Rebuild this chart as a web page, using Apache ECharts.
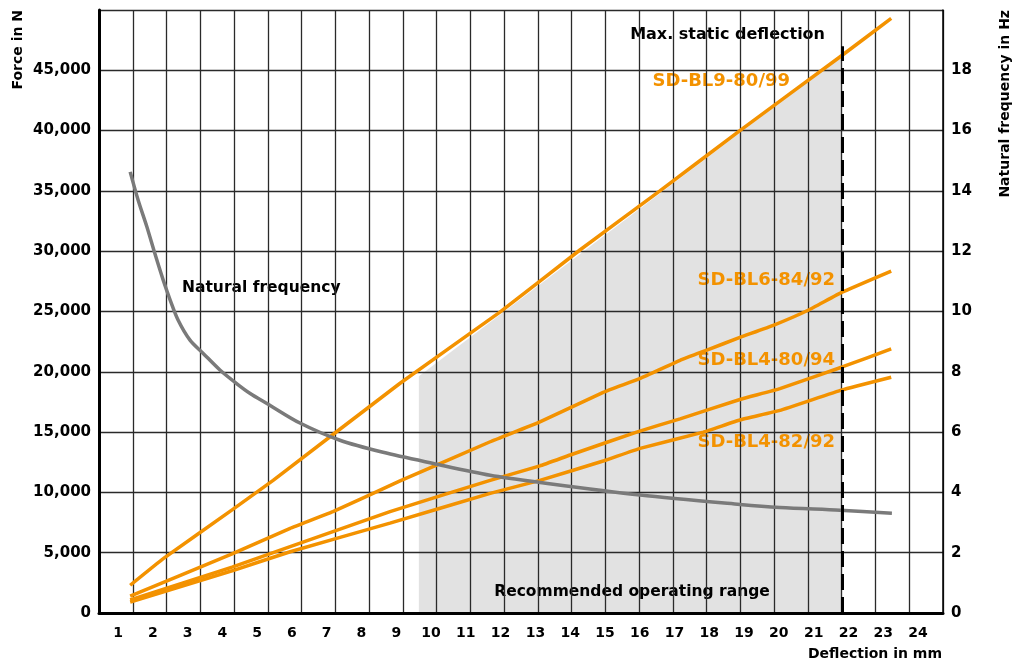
<!DOCTYPE html>
<html>
<head>
<meta charset="utf-8">
<script src="https://cdn.jsdelivr.net/npm/echarts@6/dist/echarts.min.js"></script>
<style>
html,body{margin:0;padding:0;background:#fff;}
#chart{width:1014px;height:664px;}
</style>
</head>
<body>
<div id="chart"></div>
<script>
// ---- data ----
const xTickLabels = [1,2,3,4,5,6,7,8,9,10,11,12,13,14,15,16,17,18,19,20,21,22,23,24];
const forceTicks = [0,5000,10000,15000,20000,25000,30000,35000,40000,45000];
const freqTicks = [0,2,4,6,8,10,12,14,16,18];

const freqX  = [1.35, 1.58, 1.83, 2.06, 2.30, 2.50, 2.73, 3.07, 3.45, 3.93, 4.41, 4.80, 5.28, 6.23, 7.38, 8.62, 10.07, 11.70, 13.13, 16.01, 18.88, 20.03, 21.76, 23.25];
const freqHz = [14.63, 13.69, 12.81, 11.92, 11.04, 10.38, 9.71, 9.05, 8.61, 8.06, 7.61, 7.28, 6.95, 6.3, 5.73, 5.33, 4.96, 4.57, 4.33, 3.91, 3.6, 3.5, 3.41, 3.31];

const bl9X = [1.35, 2.32, 4.28, 5.46, 9.11, 11.98, 14.28, 16.58, 18.88, 21.82, 23.23];
const bl9F = [2300, 4550, 8550, 11000, 19050, 24950, 30100, 35000, 40000, 46250, 49300];

const bl6X = [1.35, 4.28, 5.95, 7.18, 9.11, 11.70, 13.13, 14.95, 16.01, 17.16, 17.93, 18.88, 19.84, 20.84, 21.82, 23.23];
const bl6F = [1400, 4900, 7020, 8400, 10950, 14200, 15850, 18300, 19450, 20950, 21800, 22850, 23850, 25100, 26600, 28350];

const bl480X = [1.35, 4.28, 5.95, 8.82, 11.70, 13.13, 14.0, 15.91, 17.16, 18.88, 20.03, 21.82, 23.23];
const bl480F = [1080, 3800, 5500, 8400, 11000, 12200, 13100, 15000, 16100, 17700, 18600, 20400, 21900];

const bl482X = [1.35, 4.28, 5.95, 8.82, 11.70, 13.13, 14.95, 16.01, 17.83, 18.88, 20.03, 21.82, 23.23];
const bl482F = [900, 3500, 5080, 7450, 9920, 11000, 12600, 13650, 15000, 16000, 16800, 18500, 19550];

// recommended operating range (under SD-BL9 line) and max static deflection
const rangeX = [9.65, 21.82];
const rangeF = [19640, 46250];
const maxDeflection = 21.82;
const maxDeflectionTop = 47000;

const pairs = (xs, ys) => xs.map((x, i) => [x, ys[i]]);

const ORANGE = '#f39200';
const FONT = 'DejaVu Sans';

const chart = echarts.init(document.getElementById('chart'), null, {renderer: 'canvas'});

const option = {
  animation: false,
  backgroundColor: '#ffffff',
  grid: {left: 99, right: 71, top: 10, bottom: 51, containLabel: false},
  xAxis: [
    {
      type: 'value',
      min: 0.4537, max: 24.719,
      axisLine: {show: true, onZero: false, lineStyle: {color: '#000', width: 3}},
      axisTick: {show: false},
      splitLine: {show: false},
      axisLabel: {
        customValues: xTickLabels,
        color: '#000', fontFamily: FONT, fontWeight: 'bold', fontSize: 14, margin: 13
      }
    },
    {
      type: 'value',
      min: 0, max: 25, interval: 1,
      position: 'bottom',
      axisLine: {show: false},
      axisTick: {show: false},
      axisLabel: {show: false},
      splitLine: {show: true, lineStyle: {color: '#2a2a2a', width: 1.3}}
    }
  ],
  yAxis: [
    {
      type: 'value',
      min: 0, max: 50000, interval: 5000,
      axisLine: {show: true, lineStyle: {color: '#000', width: 3}},
      axisTick: {show: false},
      splitLine: {show: true, lineStyle: {color: '#2a2a2a', width: 1.3}},
      axisLabel: {
        color: '#000', fontFamily: FONT, fontWeight: 'bold', fontSize: 15, margin: 8,
        formatter: v => forceTicks.indexOf(v) >= 0 ? v.toLocaleString('en-US') : ''
      }
    },
    {
      type: 'value',
      min: 0, max: 20, interval: 2,
      position: 'right',
      axisLine: {show: true, lineStyle: {color: '#000', width: 1.5}},
      axisTick: {show: false},
      splitLine: {show: false},
      axisLabel: {
        color: '#000', fontFamily: FONT, fontWeight: 'bold', fontSize: 15, margin: 8,
        formatter: v => freqTicks.indexOf(v) >= 0 ? String(v) : ''
      }
    }
  ],
  series: [
    {
      name: 'Recommended operating range',
      type: 'line',
      z: -1,
      data: pairs(rangeX, rangeF),
      symbol: 'none',
      lineStyle: {width: 0},
      areaStyle: {color: '#e2e2e2', opacity: 1, origin: 'start'},
      silent: true
    },
    {
      name: 'SD-BL9-80/99', type: 'line', data: pairs(bl9X, bl9F),
      symbol: 'none', smooth: 0.1, lineStyle: {color: ORANGE, width: 3.5},
      markLine: {
        silent: true, symbol: 'none',
        label: {show: false},
        lineStyle: {color: '#000', width: 3, type: [16, 7]},
        data: [[{coord: [maxDeflection, 0]}, {coord: [maxDeflection, maxDeflectionTop]}]]
      }
    },
    {
      name: 'SD-BL6-84/92', type: 'line', data: pairs(bl6X, bl6F),
      symbol: 'none', smooth: 0.1, lineStyle: {color: ORANGE, width: 3.5}
    },
    {
      name: 'SD-BL4-80/94', type: 'line', data: pairs(bl480X, bl480F),
      symbol: 'none', smooth: 0.1, lineStyle: {color: ORANGE, width: 3.5}
    },
    {
      name: 'SD-BL4-82/92', type: 'line', data: pairs(bl482X, bl482F),
      symbol: 'none', smooth: 0.1, lineStyle: {color: ORANGE, width: 3.5}
    },
    {
      name: 'Natural frequency', type: 'line', yAxisIndex: 1, data: pairs(freqX, freqHz),
      symbol: 'none', smooth: 0.3, lineStyle: {color: '#7a7a7a', width: 3.5}
    }
  ],
  graphic: [
    {type: 'text', x: 18, y: 10, rotation: Math.PI / 2,
     style: {text: 'Force in N', fill: '#000', font: 'bold 14px "DejaVu Sans"', textAlign: 'right', textVerticalAlign: 'middle'}},
    {type: 'text', x: 1005, y: 10, rotation: Math.PI / 2,
     style: {text: 'Natural frequency in Hz', fill: '#000', font: 'bold 14px "DejaVu Sans"', textAlign: 'right', textVerticalAlign: 'middle'}},
    {type: 'text', x: 942, y: 654,
     style: {text: 'Deflection in mm', fill: '#000', font: 'bold 14px "DejaVu Sans"', textAlign: 'right', textVerticalAlign: 'middle'}},
    {type: 'text', x: 825, y: 35,
     style: {text: 'Max. static deflection', fill: '#000', font: 'bold 16px "DejaVu Sans"', textAlign: 'right', textVerticalAlign: 'middle'}},
    {type: 'text', x: 182, y: 288,
     style: {text: 'Natural frequency', fill: '#000', font: 'bold 15.5px "DejaVu Sans"', textAlign: 'left', textVerticalAlign: 'middle'}},
    {type: 'text', x: 632, y: 592,
     style: {text: 'Recommended operating range', fill: '#000', font: 'bold 15.5px "DejaVu Sans"', textAlign: 'center', textVerticalAlign: 'middle'}},
    {type: 'text', x: 790, y: 81,
     style: {text: 'SD-BL9-80/99', fill: ORANGE, font: 'bold 18px "DejaVu Sans"', textAlign: 'right', textVerticalAlign: 'middle'}},
    {type: 'text', x: 835, y: 280,
     style: {text: 'SD-BL6-84/92', fill: ORANGE, font: 'bold 18px "DejaVu Sans"', textAlign: 'right', textVerticalAlign: 'middle'}},
    {type: 'text', x: 835, y: 360,
     style: {text: 'SD-BL4-80/94', fill: ORANGE, font: 'bold 18px "DejaVu Sans"', textAlign: 'right', textVerticalAlign: 'middle'}},
    {type: 'text', x: 835, y: 442,
     style: {text: 'SD-BL4-82/92', fill: ORANGE, font: 'bold 18px "DejaVu Sans"', textAlign: 'right', textVerticalAlign: 'middle'}}
  ]
};
chart.setOption(option);
</script>
</body>
</html>
